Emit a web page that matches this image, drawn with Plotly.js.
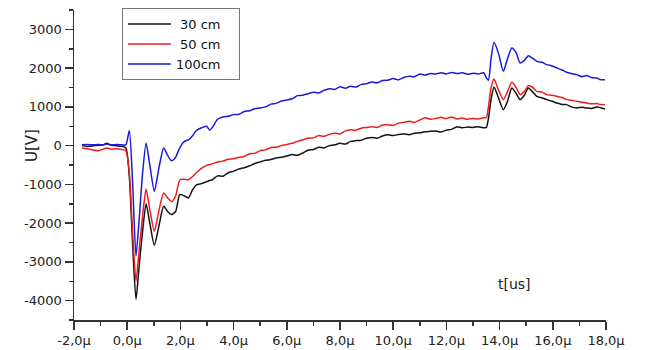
<!DOCTYPE html>
<html>
<head>
<meta charset="utf-8">
<script src="https://cdn.plot.ly/plotly-3.0.1.min.js"></script>
<style>html,body{margin:0;padding:0;background:#fff;}</style>
</head>
<body>
<div id="chart" style="width:645px;height:350px;"></div>
<script>
// time in microseconds
const t = [
  -1.7, -1.5, -1.3, -1.1, -0.9, -0.77, -0.6, -0.4, -0.2, -0.05, 0.08, 0.2, 0.33, 0.45, 0.58, 0.71, 0.85, 1.02, 1.2, 1.37, 1.52, 1.67, 1.82,
  1.98, 2.15, 2.3, 2.45, 2.6, 2.8, 2.99, 3.1,
  3.2, 3.4, 3.6, 3.8, 4.0, 4.2, 4.4, 4.6, 4.8, 5.0, 5.2, 5.4, 5.6, 5.8, 6.0, 6.2, 6.4, 6.6, 6.8, 7.0,
  7.2, 7.4, 7.6, 7.8, 8.0, 8.2, 8.4, 8.6, 8.8, 9.0, 9.2, 9.4, 9.6, 9.8, 10.0, 10.2, 10.4, 10.6, 10.8, 11.0,
  11.2, 11.4, 11.6, 11.8, 12.0, 12.2, 12.4, 12.6, 12.8, 13.0, 13.2, 13.4, 13.5, 13.58, 13.68,
  13.79, 13.95, 14.14, 14.3, 14.46, 14.62, 14.77, 14.93, 15.08, 15.25, 15.4, 15.6, 15.77, 15.95, 16.15,
  16.35, 16.52, 16.7, 16.9, 17.1, 17.27, 17.45, 17.65, 17.8, 17.96
];
const u30 = [
  0, -20, -10, 10, 20, 60, 10, 0, -20, -60, -800, -2500, -3970, -3100, -2200, -1500, -2000, -2570, -2050, -1565, -1700, -1780, -1700,
  -1260, -1300, -1350, -1150, -1010, -980, -930, -900,
  -880, -780, -790, -700, -660, -600, -570, -520, -460, -420, -380, -360, -320, -300, -270, -230, -250, -190, -120, -100,
  -40, -60, 0, 20, 60, 40, 110, 130, 140, 190, 210, 190, 250, 280, 260, 290, 300, 280, 320, 330,
  360, 370, 380, 350, 400, 420, 490, 460, 480, 470, 490, 460, 470, 700, 1200,
  1514, 1250, 929, 1150, 1489, 1350, 1187, 1300, 1489, 1380, 1272, 1230, 1187, 1150, 1101,
  1060, 1058, 1000, 973, 990, 973, 960, 998, 980, 947
];
const u50 = [
  -60, -80, -110, -130, -90, -60, -90, -80, -100, -130, -700, -2200, -3500, -2700, -1800, -1120, -1650, -2210, -1650, -1220, -1350, -1440, -1300,
  -880, -870, -880, -800, -700, -580, -510, -490,
  -470, -420, -400, -350, -340, -300, -280, -210, -200, -130, -110, -50, -40, 0, 30, 60, 110, 150, 190, 200,
  260, 240, 290, 320, 300, 380, 410, 400, 450, 470, 490, 470, 530, 540, 520, 580, 600, 630, 600, 660,
  720, 680, 700, 730, 700, 740, 690, 710, 680, 700, 690, 720, 720, 1000, 1500,
  1720, 1450, 1187, 1400, 1634, 1500, 1316, 1400, 1548, 1500, 1401, 1380, 1316, 1300, 1272,
  1240, 1187, 1170, 1143, 1120, 1101, 1080, 1084, 1060, 1058
];
const u100 = [
  20, 30, 20, 30, 20, 40, 20, 30, 20, 20, 390, -900, -2850, -1900, -700, 70, -500, -1180, -550, -60, -250, -390, -300,
  -50, 110, 150, 250, 390, 460, 500, 400,
  470, 680, 740, 760, 800, 810, 880, 900, 950, 970, 1000, 1070, 1090, 1150, 1180, 1210, 1290, 1300, 1340, 1380,
  1360, 1430, 1470, 1450, 1520, 1480, 1530, 1510, 1580, 1600, 1640, 1620, 1680, 1690, 1730, 1700, 1760, 1790, 1780, 1850,
  1820, 1860, 1850, 1880, 1850, 1890, 1860, 1880, 1840, 1870, 1850, 1880, 1750, 1690, 2250,
  2665, 2400, 1918, 2250, 2520, 2400, 2134, 2200, 2322, 2250, 2175, 2150, 2090, 2060, 2005,
  1950, 1892, 1860, 1832, 1780, 1810, 1760, 1746, 1700, 1703
];
const seriesNames = ['\u00a030 cm\u00a0\u00a0\u00a0', '\u00a050 cm\u00a0\u00a0\u00a0', '100cm\u00a0\u00a0\u00a0'];
const xTickVals = [-2, 0, 2, 4, 6, 8, 10, 12, 14, 16, 18];
const xTickText = ['-2,0μ', '0,0μ', '2,0μ', '4,0μ', '6,0μ', '8,0μ', '10,0μ', '12,0μ', '14,0μ', '16,0μ', '18,0μ'];
const yTickVals = [-4000, -3000, -2000, -1000, 0, 1000, 2000, 3000];
const yTickText = ['-4000', '-3000', '-2000', '-1000', '0', '1000', '2000', '3000'];

const colors = ['#111111', '#ee1c1c', '#1a1ad8'];
const ys = [u30, u50, u100];
const traces = ys.map((y, i) => ({
  x: t, y: y, type: 'scatter', mode: 'lines', name: seriesNames[i],
  line: {color: colors[i], width: 1.5, shape: 'spline', smoothing: 0.6}
}));

const tickFont = {family: 'DejaVu Sans, sans-serif', size: 13, color: '#222'};
const layout = {
  width: 645, height: 350,
  margin: {l: 74, r: 39, t: 10, b: 30, autoexpand: false},
  paper_bgcolor: '#fff', plot_bgcolor: '#fff',
  showlegend: true,
  legend: {
    x: 0.09, y: 1.006, xanchor: 'left', yanchor: 'top',
    bordercolor: '#777', borderwidth: 1, bgcolor: '#fff',
    font: {family: 'DejaVu Sans, sans-serif', size: 13, color: '#111'},
    itemwidth: 43,
    tracegroupgap: 0
  },
  xaxis: {
    range: [-2, 18], showgrid: false, zeroline: false,
    showline: true, linecolor: '#333', linewidth: 1.5,
    ticks: 'outside', ticklen: 8, tickwidth: 1.5, tickcolor: '#333',
    tickmode: 'array', tickvals: xTickVals, ticktext: xTickText,
    tickfont: tickFont,
    minor: {ticks: 'outside', ticklen: 4, tick0: -2, dtick: 1, tickcolor: '#333', tickwidth: 1.5}
  },
  yaxis: {
    range: [-4500, 3500], showgrid: false, zeroline: false,
    showline: true, linecolor: '#333', linewidth: 1.5,
    ticks: 'outside', ticklen: 8, tickwidth: 1.5, tickcolor: '#333',
    tickmode: 'array', tickvals: yTickVals, ticktext: yTickText,
    tickfont: tickFont,
    minor: {ticks: 'outside', ticklen: 4, tick0: -4500, dtick: 500, tickcolor: '#333', tickwidth: 1.5}
  },
  annotations: [
    {text: 't[us]', xref: 'paper', yref: 'paper', x: (533 - 74) / 532, y: (320 - 294) / 310,
     showarrow: false, font: {family: 'DejaVu Sans, sans-serif', size: 14, color: '#222'}},
    {text: 'U[V]', xref: 'paper', yref: 'paper', x: (21 - 74) / 532, y: (320 - 146) / 310,
     textangle: -90, showarrow: false, font: {family: 'DejaVu Sans, sans-serif', size: 15, color: '#222'}}
  ]
};
Plotly.newPlot('chart', traces, layout, {displayModeBar: false, staticPlot: true});
</script>
</body>
</html>
